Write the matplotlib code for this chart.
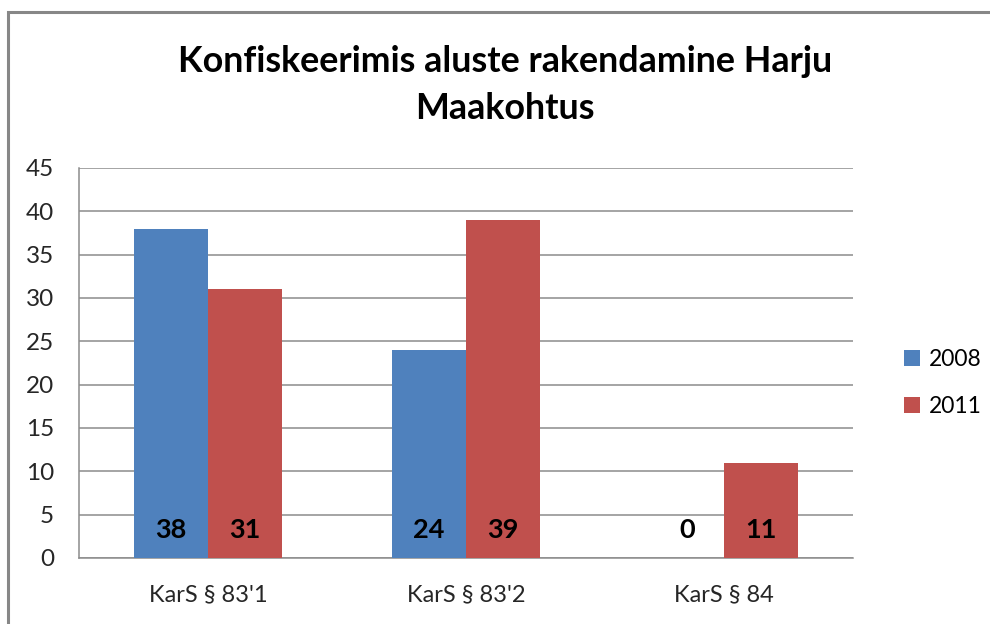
import matplotlib
matplotlib.use("Agg")
import matplotlib.pyplot as plt
from matplotlib.patches import Rectangle
import numpy as np

plt.rcParams['font.family'] = ['Lato', 'DejaVu Sans']

categories = ["KarS § 83'1", "KarS § 83'2", "KarS § 84"]
years = ['2008', '2011']
values_2008 = [38, 24, 0]
values_2011 = [31, 39, 11]
yticks = [0, 5, 10, 15, 20, 25, 30, 35, 40, 45]
title = 'Konfiskeerimis aluste rakendamine Harju\nMaakohtus'

blue = '#4F81BD'
red = '#C0504D'
grid = '#8C8C8C'

fig = plt.figure(figsize=(9.9, 6.24), dpi=100)
ax = fig.add_axes([79 / 990, 66 / 624, 774 / 990, 390 / 624])

# outer chart frame (right/bottom run off the image)
fig.patches.append(Rectangle((8 / 990, -0.1), 1.2, 0.1 + 612 / 624,
                             transform=fig.transFigure, fill=False,
                             edgecolor='#878787', lw=2.2))

x = np.arange(len(categories))
w = 0.287
b1 = ax.bar(x - w / 2, values_2008, w, color=blue, label=years[0], zorder=3)
b2 = ax.bar(x + w / 2, values_2011, w, color=red, label=years[1], zorder=3)

for bars, vals in ((b1, values_2008), (b2, values_2011)):
    for rect, v in zip(bars, vals):
        ax.text(rect.get_x() + rect.get_width() / 2, 3.2, str(v),
                ha='center', va='center', fontsize=19.5, fontweight='bold',
                color='black', zorder=4)

ax.set_xlim(-0.5, 2.5)
ax.set_ylim(0, 45)
ax.set_yticks(yticks)
ax.set_xticks(x)
ax.set_xticklabels(categories)
ax.yaxis.grid(True, color=grid, lw=1.1, zorder=0)
ax.set_axisbelow(True)
for s in ('top', 'right'):
    ax.spines[s].set_visible(False)
ax.spines['left'].set_color(grid)
ax.spines['bottom'].set_color(grid)
ax.spines['left'].set_linewidth(1.1)
ax.spines['bottom'].set_linewidth(1.1)
ax.tick_params(axis='both', length=0, colors='black')
ax.tick_params(axis='y', pad=18, labelsize=17.5)
ax.tick_params(axis='x', pad=19, labelsize=17)
for lbl in ax.get_xticklabels() + ax.get_yticklabels():
    lbl.set_color('#262626')

fig.text(505 / 990, 1 - 85 / 624, title, ha='center', va='center',
         fontsize=25.8, fontweight='bold', linespacing=1.5)

ax.legend(loc='center left', bbox_to_anchor=(895 / 990, 1 - 383 / 624),
          bbox_transform=fig.transFigure, frameon=False, fontsize=16.5,
          handlelength=0.7, handleheight=0.7, handletextpad=0.4,
          labelspacing=1.15, borderaxespad=0)

fig.savefig('out.png', dpi=100)
